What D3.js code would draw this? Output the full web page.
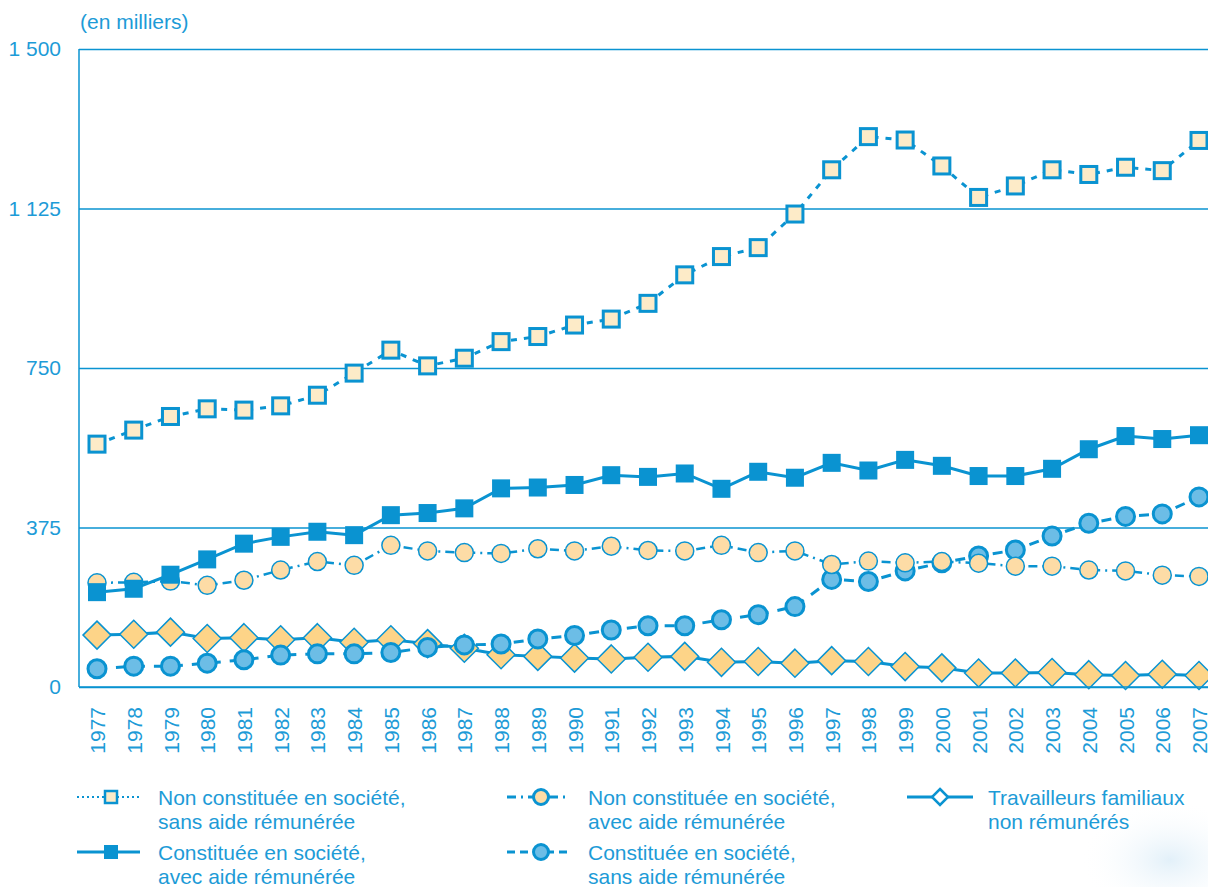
<!DOCTYPE html>
<html>
<head>
<meta charset="utf-8">
<script src="https://cdn.jsdelivr.net/npm/d3@7"></script>
<style>
  body { margin: 0; background: #fff; }
  svg { display: block; font-family: "Liberation Sans", Arial, sans-serif; }
</style>
</head>
<body>
<div id="chart"></div>
<script>
// data (en milliers)
var years = d3.range(1977, 2008);
var yTicks = [0, 375, 750, 1125, 1500];

var nonConstSansAide = [571, 604, 636, 654, 651, 661, 686, 738, 792, 755, 773, 812, 824, 851, 865, 902, 969, 1012, 1033, 1112, 1216, 1294, 1286, 1225, 1151, 1178, 1216, 1205, 1222, 1214, 1285];
var constAvecAide = [223, 231, 264, 300, 337, 353, 365, 357, 404, 409, 420, 467, 469, 475, 498, 494, 502, 466, 506, 492, 527, 509, 534, 520, 496, 496, 513, 559, 590, 583, 592];
var nonConstAvecAide = [245, 246, 249, 239, 251, 275, 295, 286, 333, 320, 316, 314, 325, 320, 331, 321, 320, 333, 316, 320, 288, 296, 292, 295, 291, 284, 284, 275, 273, 263, 260];
var constSansAide = [43, 49, 49, 56, 64, 75, 78, 78, 81, 93, 99, 101, 113, 121, 134, 144, 144, 158, 170, 189, 253, 248, 273, 292, 308, 322, 355, 385, 401, 407, 447];
var travFamiliaux = [122, 124, 129, 114, 116, 111, 116, 105, 111, 102, 91, 76, 72, 68, 66, 70, 72, 58, 60, 56, 62, 60, 48, 45, 33, 33, 34, 29, 27, 30, 27];

var blue = "#0a93d1";
var textBlue = "#1d9bd7";

var svgWidth = 1208;
var svgHeight = 887;

var svg = d3.select("#chart")
  .append("svg")
  .attr("width", svgWidth)
  .attr("height", svgHeight);

// faint background smear, bottom right
var defs = svg.append("defs");
var grad = defs.append("radialGradient").attr("id", "smear");
grad.append("stop").attr("offset", "0%").attr("stop-color", "#cfe6f5").attr("stop-opacity", 0.6);
grad.append("stop").attr("offset", "100%").attr("stop-color", "#ffffff").attr("stop-opacity", 0);
svg.append("ellipse")
  .attr("cx", 1170).attr("cy", 860)
  .attr("rx", 90).attr("ry", 60)
  .attr("fill", "url(#smear)");

// scales
var xScale = d3.scaleLinear()
  .domain([1977, 2007])
  .range([97, 1199]);

var yScale = d3.scaleLinear()
  .domain([0, 1500])
  .range([687, 49]);

var plotLeft = 79;

// y axis + gridlines
var fr = d3.formatLocale({ decimal: ",", thousands: " ", grouping: [3], currency: ["", " €"] });
var leftAxis = d3.axisLeft(yScale)
  .tickValues(yTicks)
  .tickFormat(fr.format(",d"))
  .tickSize(-(svgWidth - plotLeft))
  .tickPadding(18);

var yAxisG = svg.append("g")
  .attr("transform", `translate(${plotLeft},0)`)
  .call(leftAxis);
yAxisG.select(".domain").remove();
yAxisG.selectAll(".tick line")
  .attr("stroke", blue)
  .attr("stroke-width", 1.5);
yAxisG.selectAll(".tick text")
  .attr("fill", textBlue)
  .style("font-size", "21px");

// left vertical line
svg.append("line")
  .attr("x1", plotLeft).attr("x2", plotLeft)
  .attr("y1", yScale(1500)).attr("y2", yScale(0))
  .attr("stroke", blue)
  .attr("stroke-width", 1.5);

// unit label
svg.append("text")
  .attr("x", plotLeft + 1)
  .attr("y", 29)
  .attr("fill", textBlue)
  .style("font-size", "21px")
  .text("(en milliers)");

// x axis labels
var bottomAxis = d3.axisBottom(xScale)
  .tickValues(years)
  .tickFormat(d3.format("d"))
  .tickSize(0);

var xAxisG = svg.append("g")
  .attr("transform", `translate(0,${yScale(0)})`)
  .call(bottomAxis);
xAxisG.select(".domain").remove();
xAxisG.selectAll(".tick text")
  .attr("transform", "rotate(-90)")
  .attr("x", -20)
  .attr("y", 0)
  .attr("dy", "0.36em")
  .style("text-anchor", "end")
  .style("font-size", "21px")
  .attr("fill", textBlue);

// series definitions
var series = [
  { name: "trav", values: travFamiliaux, dash: null, width: 3, marker: "diamond", fill: "#fdd488", mstroke: 1.5 },
  { name: "constSans", values: constSansAide, dash: "10,9", width: 3, marker: "circle", fill: "#6cbde6", mstroke: 3, r: 9 },
  { name: "nonConstAvec", values: nonConstAvecAide, dash: "9,5,2,5", width: 2.5, marker: "circle", fill: "#fddca6", mstroke: 1.5, r: 9 },
  { name: "constAvec", values: constAvecAide, dash: null, width: 3, marker: "filledSquare", fill: blue, mstroke: 0 },
  { name: "nonConstSans", values: nonConstSansAide, dash: "6,7", width: 3, marker: "openSquare", fill: "#fdebc8", mstroke: 3 }
];

var line = d3.line()
  .x((d, i) => xScale(years[i]))
  .y(d => yScale(d));

function drawMarker(g, type, s, x, y) {
  if (type === "diamond") {
    g.append("path")
      .attr("d", `M${x},${y - 14}L${x + 14},${y}L${x},${y + 14}L${x - 14},${y}Z`)
      .attr("fill", s.fill)
      .attr("stroke", blue)
      .attr("stroke-width", s.mstroke);
  } else if (type === "circle") {
    g.append("circle")
      .attr("cx", x).attr("cy", y).attr("r", s.r)
      .attr("fill", s.fill)
      .attr("stroke", blue)
      .attr("stroke-width", s.mstroke);
  } else if (type === "filledSquare") {
    g.append("rect")
      .attr("x", x - 9).attr("y", y - 9)
      .attr("width", 18).attr("height", 18)
      .attr("fill", blue);
  } else {
    g.append("rect")
      .attr("x", x - 8).attr("y", y - 8)
      .attr("width", 16).attr("height", 16)
      .attr("fill", s.fill)
      .attr("stroke", blue)
      .attr("stroke-width", s.mstroke);
  }
}

series.forEach(function(s) {
  var g = svg.append("g").attr("class", s.name);
  g.append("path")
    .datum(s.values)
    .attr("d", line)
    .attr("fill", "none")
    .attr("stroke", blue)
    .attr("stroke-width", s.width)
    .attr("stroke-dasharray", s.dash);
  s.values.forEach(function(v, i) {
    drawMarker(g, s.marker, s, xScale(years[i]), yScale(v));
  });
});

// bottom axis line (drawn over markers like the original)
svg.append("line")
  .attr("x1", plotLeft).attr("x2", svgWidth)
  .attr("y1", yScale(0)).attr("y2", yScale(0))
  .attr("stroke", blue)
  .attr("stroke-width", 1.5);

// legend
var legendItems = [
  { s: series[4], x: 77, y: 797, len: 63, lines: ["Non constituée en société,", "sans aide rémunérée"] },
  { s: series[3], x: 77, y: 852, len: 63, lines: ["Constituée en société,", "avec aide rémunérée"] },
  { s: series[2], x: 507, y: 797, len: 63, lines: ["Non constituée en société,", "avec aide rémunérée"] },
  { s: series[1], x: 507, y: 852, len: 63, lines: ["Constituée en société,", "sans aide rémunérée"] },
  { s: series[0], x: 907, y: 797, len: 66, lines: ["Travailleurs familiaux", "non rémunérés"] }
];

var legend = svg.append("g").attr("class", "legend");
legendItems.forEach(function(item) {
  var s = item.s;
  var g = legend.append("g");
  var dash = s.name === "nonConstSans" ? "2,3" : (s.name === "constSans" ? "8,5" : s.dash);
  g.append("line")
    .attr("x1", item.x).attr("x2", item.x + item.len)
    .attr("y1", item.y).attr("y2", item.y)
    .attr("stroke", blue)
    .attr("stroke-width", s.name === "nonConstSans" ? 2 : 3)
    .attr("stroke-dasharray", dash);
  var cx = item.x + (s.name === "trav" ? 33 : 34);
  if (s.marker === "diamond") {
    g.append("path")
      .attr("d", `M${cx},${item.y - 8}L${cx + 8},${item.y}L${cx},${item.y + 8}L${cx - 8},${item.y}Z`)
      .attr("fill", "#fff")
      .attr("stroke", blue)
      .attr("stroke-width", 2.5);
  } else if (s.marker === "circle") {
    g.append("circle")
      .attr("cx", cx).attr("cy", item.y).attr("r", 7.5)
      .attr("fill", s.fill)
      .attr("stroke", blue)
      .attr("stroke-width", 3);
  } else if (s.marker === "filledSquare") {
    g.append("rect")
      .attr("x", cx - 7).attr("y", item.y - 7)
      .attr("width", 14).attr("height", 14)
      .attr("fill", blue);
  } else {
    g.append("rect")
      .attr("x", cx - 6).attr("y", item.y - 6)
      .attr("width", 12).attr("height", 12)
      .attr("fill", s.fill)
      .attr("stroke", blue)
      .attr("stroke-width", 2.5);
  }
  item.lines.forEach(function(t, k) {
    g.append("text")
      .attr("x", item.x + 81)
      .attr("y", item.y + 8 + k * 24)
      .attr("fill", textBlue)
      .style("font-size", "21px")
      .text(t);
  });
});
</script>
</body>
</html>
